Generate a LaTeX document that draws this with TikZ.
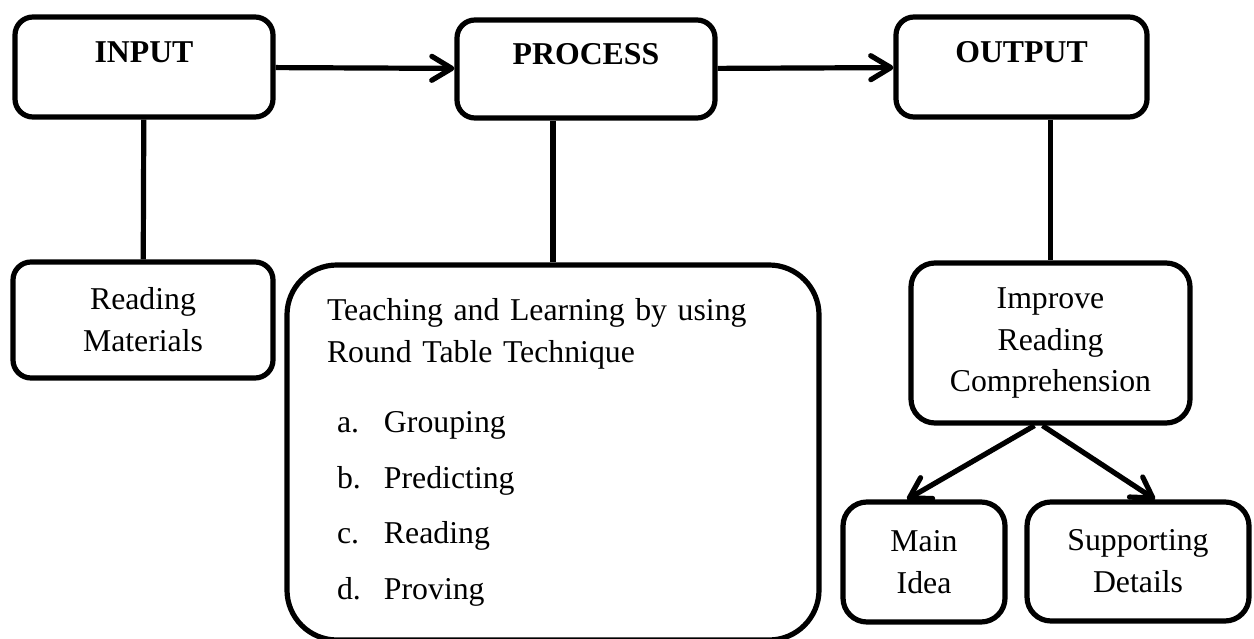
\documentclass[tikz,border=0pt]{standalone}
\usepackage{fontspec}
\setmainfont{Liberation Serif}
\usetikzlibrary{arrows.meta}

\begin{document}
\begin{tikzpicture}[x = 0.25mm, y = -0.25mm, line width = 1.3mm,
    font = \fontsize{22.6}{29.8}\selectfont,
    box/.style = {draw, rounded corners = 4.5mm, align = center, inner sep = 0pt},
    head/.style = {box, font = \fontsize{22.6}{29.8}\selectfont\bfseries, text height = 5.4mm, text depth = 7.4mm},
    arr/.style = {-{Straight Barb[round, length = 5mm, width = 6mm]}}]
\useasboundingbox (0,0) rectangle (1254,639);
\draw (144,67) node[head, minimum width = 64.5mm, minimum height = 25mm](input){INPUT}
    (586,69) node[head, minimum width = 64.5mm, minimum height = 24.5mm](process){PROCESS}
    (1021.5,67) node[head, minimum width = 62.75mm, minimum height = 25mm](output){OUTPUT}
    (143,320) node[box, minimum width = 65mm, minimum height = 29mm](reading){Reading\\Materials}
    (553,452.5) node[box, rounded corners = 12.5mm, align = left, text width = 113mm, inner xsep = 10mm, minimum height = 93.75mm](tech){Teaching and Learning by using\\
        Round Table Technique\\[7mm]
        \hspace*{2.5mm}\makebox[11.75mm][l]{a.}Grouping\\[3.4mm]
        \hspace*{2.5mm}\makebox[11.75mm][l]{b.}Predicting\\[3.4mm]
        \hspace*{2.5mm}\makebox[11.75mm][l]{c.}Reading\\[3.4mm]
        \hspace*{2.5mm}\makebox[11.75mm][l]{d.}Proving}
    (1050.5,343) node[box, rounded corners = 6mm, minimum width = 69.75mm, minimum height = 40mm](improve){Improve\\Reading\\Comprehension}
    (924,562) node[box, rounded corners = 6mm, minimum width = 40.5mm, minimum height = 30mm](idea){Main\\Idea}
    (1138,561.5) node[box, rounded corners = 6mm, minimum width = 55.5mm, minimum height = 29.75mm](details){Supporting\\Details};
    \draw [arr] (input) -- (process);
    \draw [arr] (process) -- (output);
    \draw (input) -- (reading);
    \draw (tech.north |- process.south) -- (tech.north);
    \draw (improve.north |- output.south) -- (improve.north);
    \draw [arr] ([xshift = -4mm]improve.south) -- ([xshift = -4.25mm]idea.north);
    \draw [arr] ([xshift = -2mm]improve.south) -- ([xshift = 4.25mm]details.north);
\end{tikzpicture}
\end{document}
